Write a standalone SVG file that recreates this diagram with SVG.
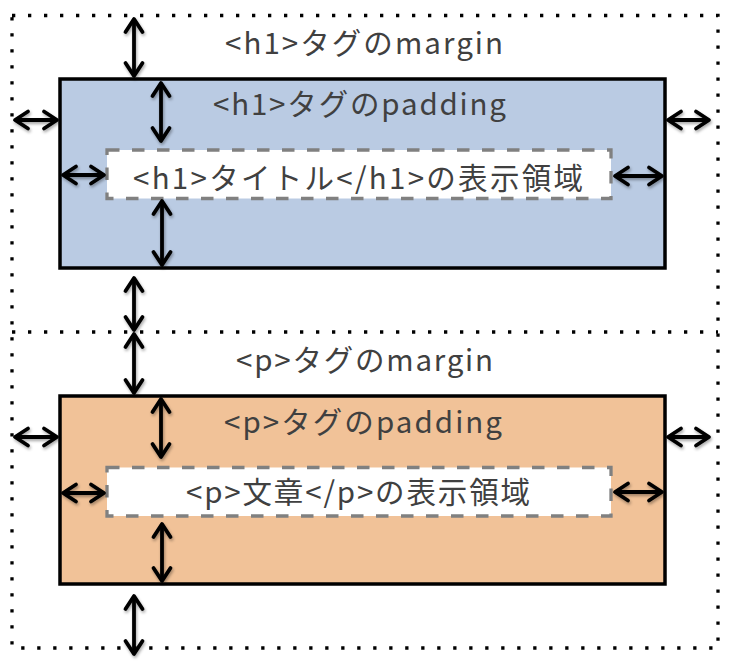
<svg xmlns="http://www.w3.org/2000/svg" width="730" height="666" viewBox="0 0 730 666">
<style>
.bg{fill:#ffffff}
.dot{fill:none;stroke:#000;stroke-width:3.3;stroke-dasharray:3.3 12.7}
.box{stroke:#000;stroke-width:3.5}
.h1box{fill:#BACBE3}
.pbox{fill:#F1C298}
.inner{fill:#fff;stroke:#808080;stroke-width:3.3;stroke-dasharray:12.5 12.5}
.lbl{font-family:"Noto Sans CJK JP","Noto Sans",sans-serif;font-size:29.5px;fill:#404040;text-anchor:middle}
.arr{stroke:#000;stroke-width:3.8;fill:none;marker-start:url(#head);marker-end:url(#head)}
</style>
<defs>
<marker id="head" markerUnits="userSpaceOnUse" viewBox="-17 -12 21 24" refX="0" refY="0" markerWidth="21" markerHeight="24" orient="auto-start-reverse">
<path d="M-13,-8.5 L0,0 L-13,8.5" fill="none" stroke="#000" stroke-width="3.8" stroke-linecap="round" stroke-linejoin="round"/>
</marker>
<filter id="sh" x="-50%" y="-50%" width="200%" height="200%">
<feDropShadow dx="1" dy="2" stdDeviation="1.5" flood-color="#000" flood-opacity="0.35"/>
</filter>
</defs>
<rect class="bg" x="0" y="0" width="730" height="666"/>
<g id="margin-area">
<rect class="dot" x="12" y="15.5" width="706" height="632.5"/>
<line class="dot" x1="12" y1="332" x2="718" y2="332"/>
</g>
<g id="h1-margin-label">
<text class="lbl" x="364" y="54" textLength="278" lengthAdjust="spacing">&lt;h1&gt;タグのmargin</text>
</g>
<g id="h1-padding">
<rect class="box h1box" x="60" y="79" width="605" height="189"/>
<text class="lbl" x="359.5" y="115" textLength="293" lengthAdjust="spacing">&lt;h1&gt;タグのpadding</text>
</g>
<g id="h1-content">
<rect class="inner" x="107" y="150" width="504" height="48.5"/>
<text class="lbl" x="358" y="189" textLength="450" lengthAdjust="spacing">&lt;h1&gt;タイトル&lt;/h1&gt;の表示領域</text>
</g>
<g id="p-margin-label">
<text class="lbl" x="364.5" y="371" textLength="257" lengthAdjust="spacing">&lt;p&gt;タグのmargin</text>
</g>
<g id="p-padding">
<rect class="box pbox" x="60" y="396" width="605" height="188"/>
<text class="lbl" x="363" y="433" textLength="278" lengthAdjust="spacing">&lt;p&gt;タグのpadding</text>
</g>
<g id="p-content">
<rect class="inner" x="107" y="467.5" width="504" height="48.5"/>
<text class="lbl" x="358" y="503" textLength="344" lengthAdjust="spacing">&lt;p&gt;文章&lt;/p&gt;の表示領域</text>
</g>
<g id="connectors" filter="url(#sh)">
<line class="arr" x1="134" y1="19" x2="134" y2="76"/>
<line class="arr" x1="161" y1="83" x2="161" y2="141"/>
<line class="arr" x1="15" y1="120" x2="57" y2="120"/>
<line class="arr" x1="63" y1="175" x2="104" y2="175"/>
<line class="arr" x1="615" y1="176" x2="662" y2="176"/>
<line class="arr" x1="668" y1="120" x2="709" y2="120"/>
<line class="arr" x1="162" y1="201" x2="162" y2="265"/>
<line class="arr" x1="134" y1="278" x2="134" y2="330"/>
<line class="arr" x1="134" y1="334" x2="134" y2="393"/>
<line class="arr" x1="161" y1="399" x2="161" y2="457"/>
<line class="arr" x1="15" y1="437" x2="57" y2="437"/>
<line class="arr" x1="63" y1="493" x2="104" y2="493"/>
<line class="arr" x1="615" y1="492" x2="662" y2="492"/>
<line class="arr" x1="668" y1="437" x2="709" y2="437"/>
<line class="arr" x1="162" y1="524" x2="162" y2="581"/>
<line class="arr" x1="134" y1="596" x2="134" y2="654"/>
</g>
</svg>
